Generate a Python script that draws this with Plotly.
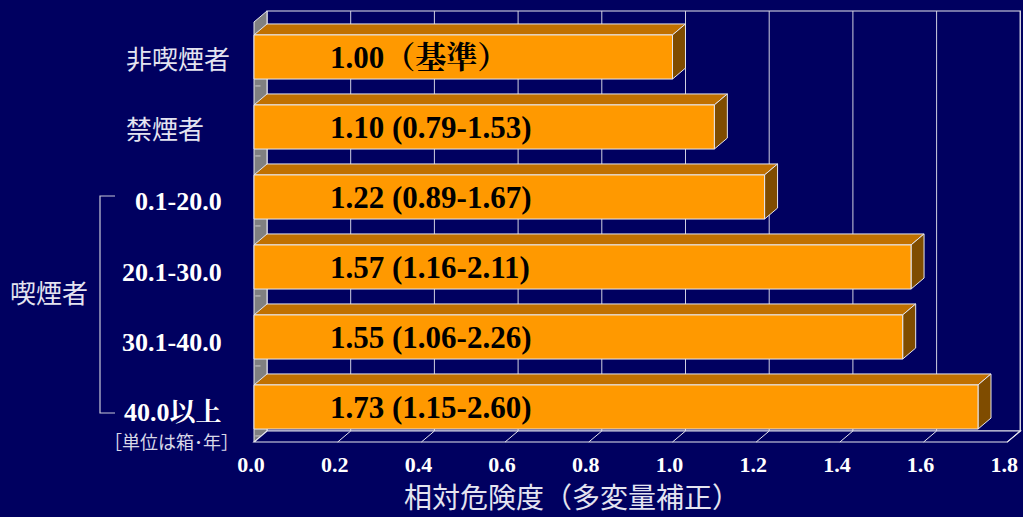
import plotly.graph_objects as go

# ---- data ----
categories = ["非喫煙者", "禁煙者", "0.1-20.0", "20.1-30.0", "30.1-40.0", "40.0以上"]
values = [1.00, 1.10, 1.22, 1.57, 1.55, 1.73]
bar_labels = ["1.00（<b>基準</b>）", "1.10 (0.79-1.53)", "1.22 (0.89-1.67)",
              "1.57 (1.16-2.11)", "1.55 (1.06-2.26)", "1.73 (1.15-2.60)"]
tick_vals = [0.0, 0.2, 0.4, 0.6, 0.8, 1.0, 1.2, 1.4, 1.6, 1.8]
tick_text = ["0.0", "0.2", "0.4", "0.6", "0.8", "1.0", "1.2", "1.4", "1.6", "1.8"]
x_title = "相対危険度（多変量補正）"
group_label = "喫煙者"
unit_note = "［単位は箱･年］"

# ---- geometry ----
W, H = 1023, 517
L_M, R_M, T_M, B_M = 251, 1, 9, 73
PXU_X = 418.5      # pixels per x unit (front plane)
X0_PX = 254        # pixel of x=0 on front plane
PXU_Y = 70.0       # pixels per category
Y0_PX = 57         # pixel of first category centre
XMAX = 1.8
DX = 13 / PXU_X    # depth offset in x units
DY = 11 / PXU_Y    # depth offset in category units
BW = 0.63          # bar thickness

def X(px):
    return (px - X0_PX) / PXU_X

def Y(py):
    return (py - Y0_PX) / PXU_Y

def PX(px):
    return (px - L_M) / (W - L_M - R_M)

def PY(py):
    return 1 - (py - T_M) / (H - T_M - B_M)

x_range = [X(L_M), X(W - R_M)]
y_range = [Y(H - B_M), Y(T_M)]

BG = "#000060"
EDGE = "#e6e6ee"
GRID = "#d0d0e0"
FRONT = "#FF9900"
TOP = "#C07000"
SIDE = "#7F4C00"
WALL = "#808080"

n = len(categories)
y_lo, y_hi = -0.5, n - 0.5

shapes = []
# back wall
shapes.append(dict(type="rect", xref="x", yref="y", x0=DX, x1=XMAX + DX,
                   y0=y_lo - DY, y1=y_hi - DY, fillcolor=BG,
                   line=dict(color=EDGE, width=1.2), layer="below"))
# gridlines on back wall
for v in tick_vals[1:]:
    shapes.append(dict(type="line", xref="x", yref="y", x0=v + DX, x1=v + DX,
                       y0=y_lo - DY, y1=y_hi - DY,
                       line=dict(color=GRID, width=1), layer="below"))
# left wall
shapes.append(dict(type="path", xref="x", yref="y",
                   path=f"M0,{y_lo} L{DX},{y_lo - DY} L{DX},{y_hi - DY} L0,{y_hi} Z",
                   fillcolor=WALL, line=dict(color=EDGE, width=1), layer="below"))
# small marks on the left wall between bars
for k in range(n):
    yk = k + 0.5 - DY * 0.55
    shapes.append(dict(type="line", xref="x", yref="y", x0=DX * 0.1, x1=DX * 0.5,
                       y0=yk, y1=yk, line=dict(color="#c8c8c8", width=1), layer="below"))
# floor
shapes.append(dict(type="path", xref="x", yref="y",
                   path=f"M0,{y_hi} L{XMAX},{y_hi} L{XMAX + DX},{y_hi - DY} L{DX},{y_hi - DY} Z",
                   fillcolor=BG, line=dict(color=EDGE, width=1.2), layer="below"))
for v in tick_vals[1:]:
    shapes.append(dict(type="line", xref="x", yref="y", x0=v, x1=v + DX,
                       y0=y_hi, y1=y_hi - DY,
                       line=dict(color=EDGE, width=1), layer="below"))
# bar top and side faces
for i, v in enumerate(values):
    t = i - BW / 2
    b = i + BW / 2
    shapes.append(dict(type="path", xref="x", yref="y",
                       path=f"M0,{t} L{v},{t} L{v + DX},{t - DY} L{DX},{t - DY} Z",
                       fillcolor=TOP, line=dict(color=EDGE, width=1), layer="below"))
    shapes.append(dict(type="path", xref="x", yref="y",
                       path=f"M{v},{t} L{v + DX},{t - DY} L{v + DX},{b - DY} L{v},{b} Z",
                       fillcolor=SIDE, line=dict(color=EDGE, width=1), layer="below"))

# bracket for smokers (paper coordinates, outside the plot area)
shapes.append(dict(type="path", xref="paper", yref="paper",
                   path=f"M{PX(115)},{PY(196)} L{PX(100)},{PY(196)} L{PX(100)},{PY(413)} L{PX(115)},{PY(413)}",
                   line=dict(color="#c8c8d8", width=1.2), layer="above"))

fig = go.Figure()
fig.add_trace(go.Bar(x=values, y=list(range(n)), orientation="h", width=BW,
                     marker=dict(color=FRONT, line=dict(color=EDGE, width=1)),
                     hoverinfo="skip", showlegend=False))

annotations = []
SERIF = "Liberation Serif, Noto Serif CJK JP, Noto Sans CJK JP"
CJK = "Noto Sans CJK JP"
for i, txt in enumerate(bar_labels):
    annotations.append(dict(xref="x", yref="y", x=X(328), y=i, text=txt,
                            xanchor="left", yanchor="middle", showarrow=False,
                            font=dict(family=SERIF, size=31, color="black", weight="bold")))
for i, c in enumerate(categories):
    py = Y0_PX + i * PXU_Y
    if i < 2:
        annotations.append(dict(xref="paper", yref="paper", x=PX(124), y=PY(py), text=c,
                                xanchor="left", yanchor="middle", showarrow=False,
                                font=dict(family=CJK, size=26, color="#e4e4f0")))
    else:
        annotations.append(dict(xref="paper", yref="paper", x=PX(224), y=PY(py + 5), text=c,
                                xanchor="right", yanchor="middle", showarrow=False,
                                font=dict(family=SERIF, size=26, color="white", weight="bold")))
annotations.append(dict(xref="paper", yref="paper", x=PX(49), y=PY(291), text=group_label,
                        xanchor="center", yanchor="middle", showarrow=False,
                        font=dict(family=CJK, size=26, color="#e4e4f0")))
annotations.append(dict(xref="paper", yref="paper", x=PX(171), y=PY(441), text=unit_note,
                        xanchor="center", yanchor="middle", showarrow=False,
                        font=dict(family=CJK, size=18, color="#d8d8e8")))
annotations.append(dict(xref="paper", yref="paper", x=PX(572), y=PY(496), text=x_title,
                        xanchor="center", yanchor="middle", showarrow=False,
                        font=dict(family=CJK, size=28, color="#e4e4f0")))

fig.update_layout(
    width=W, height=H,
    margin=dict(l=L_M, r=R_M, t=T_M, b=B_M),
    paper_bgcolor=BG, plot_bgcolor=BG,
    shapes=shapes, annotations=annotations,
    bargap=0.37,
    xaxis=dict(range=x_range, tickvals=tick_vals, ticktext=tick_text,
               showgrid=False, zeroline=False, showline=False, ticks="",
               ticklabelstandoff=5, ticklabelshift=-3,
               tickfont=dict(family=SERIF, size=22, color="white", weight="bold")),
    yaxis=dict(range=y_range, showgrid=False, zeroline=False, showline=False,
               showticklabels=False, ticks=""),
)

fig.write_html("out.html", config={"displayModeBar": False},
               post_script="document.body.style.margin='0';document.body.style.overflow='hidden';")
